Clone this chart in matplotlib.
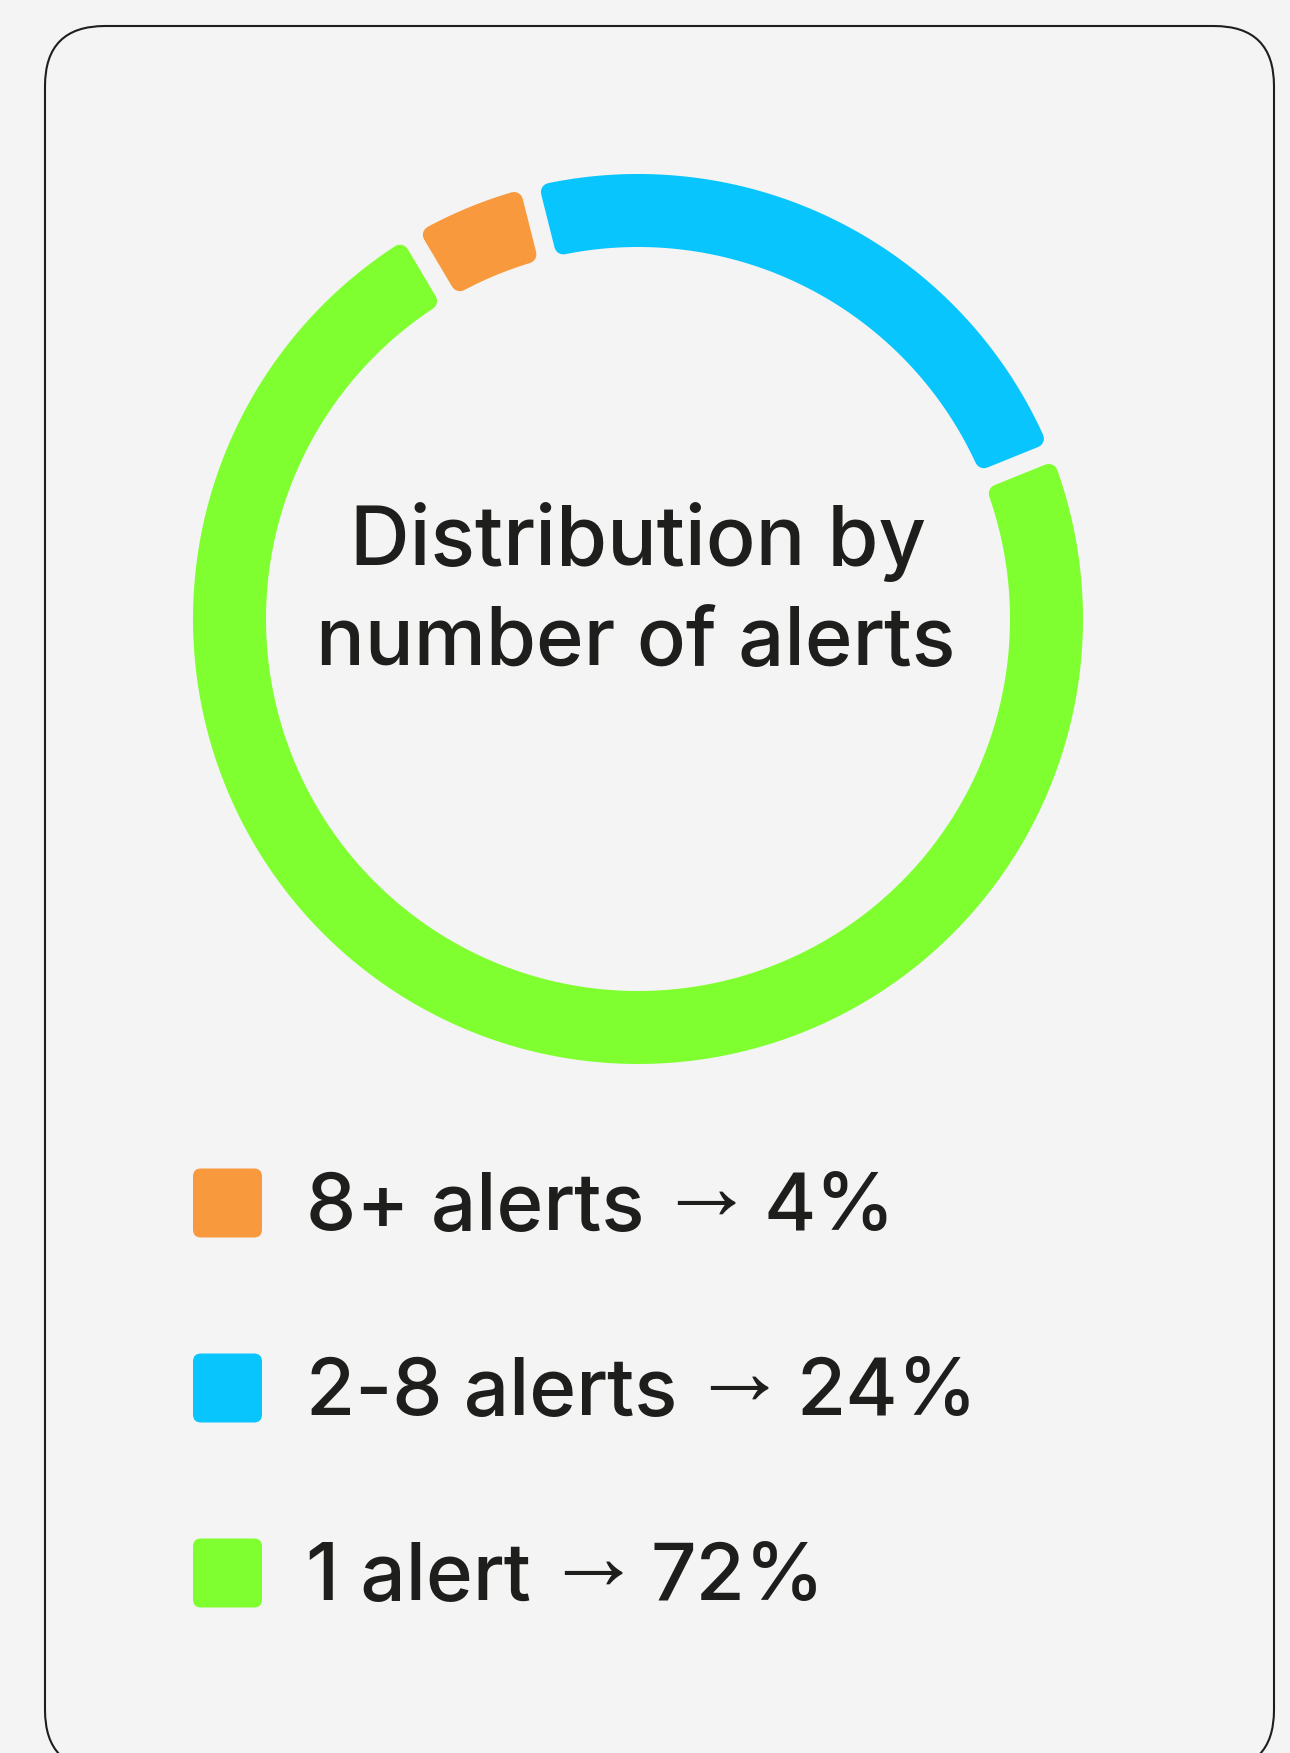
import numpy as np
import matplotlib
matplotlib.use("Agg")
import matplotlib.pyplot as plt
from matplotlib.patches import Polygon, FancyBboxPatch

# data
labels = ["8+ alerts", "2-8 alerts", "1 alert"]
percent = [4, 24, 72]
# share of the ring each arc takes, as drawn
arc_share = [4.6, 22.8, 72.6]
colors = ["#F8993E", "#08C5FE", "#80FF30"]

bg = "#F4F4F4"
ink = "#1E1E1C"
font = ["Inter", "DejaVu Sans"]
W, H = 1290, 1753

fig = plt.figure(figsize=(12.9, 17.53), dpi=100, facecolor=bg)
ax = fig.add_axes([0, 0, 1, 1])
ax.set_xlim(0, W)
ax.set_ylim(0, H)
ax.axis("off")

def Y(y):
    # positions measured from the top of the image
    return H - y

# card outline
card = FancyBboxPatch((45, Y(1770)), 1229, 1744, boxstyle="round,pad=0,rounding_size=60",
                      fc="none", ec=ink, lw=1.5, clip_on=False)
ax.add_patch(card)

# ring
cx, cy = 638, Y(619)
r_out, r_in = 445, 372
gap = 19
rc = 9
start = -30.65

def seg_points(a0, a1):
    ro = r_out - rc
    ri = r_in + rc
    d = gap / 2 + rc
    t0, t1 = np.radians(a0), np.radians(a1)
    to = np.linspace(t0 + d / ro, t1 - d / ro, 200)
    ti = np.linspace(t1 - d / ri, t0 + d / ri, 200)
    xs = np.concatenate([cx + ro * np.sin(to), cx + ri * np.sin(ti)])
    ys = np.concatenate([cy + ro * np.cos(to), cy + ri * np.cos(ti)])
    return np.column_stack([xs, ys])

bounds = start + np.concatenate([[0], np.cumsum(arc_share)]) * 3.6
for i, c in enumerate(colors):
    poly = Polygon(seg_points(bounds[i], bounds[i + 1]), closed=True,
                   fc=c, ec=c, lw=2 * rc * 0.72, joinstyle="round")
    ax.add_patch(poly)

ax.text(cx, Y(565), "Distribution by", ha="center", va="baseline",
        fontsize=59.5, color=ink, family=font, weight="medium")
ax.text(cx - 2, Y(665), "number of alerts", ha="center", va="baseline",
        fontsize=58.5, color=ink, family=font, weight="medium")

# legend
fig.canvas.draw()
rend = fig.canvas.get_renderer()
row_y = [1203, 1388, 1573]
for lab, p, c, y in zip(labels, percent, colors, row_y):
    sq = FancyBboxPatch((193, Y(y + 34.5)), 69, 69, boxstyle="round,pad=0,rounding_size=8",
                        fc=c, ec="none")
    ax.add_patch(sq)
    t = ax.text(306, Y(y + 27), lab, ha="left", va="baseline",
                fontsize=57.5, color=ink, family=font, weight="medium")
    x_end = t.get_window_extent(rend).x1
    a = ax.text(x_end + 13, Y(y + 16), "\u2192", ha="left", va="baseline",
                fontsize=70, color=ink, family=["Liberation Sans", "DejaVu Sans"])
    a_end = a.get_window_extent(rend).x1
    ax.text(a_end + 9, Y(y + 27), f"{p}%", ha="left", va="baseline",
            fontsize=57.5, color=ink, family=font, weight="medium")

fig.savefig("out.png", dpi=100, facecolor=bg)
